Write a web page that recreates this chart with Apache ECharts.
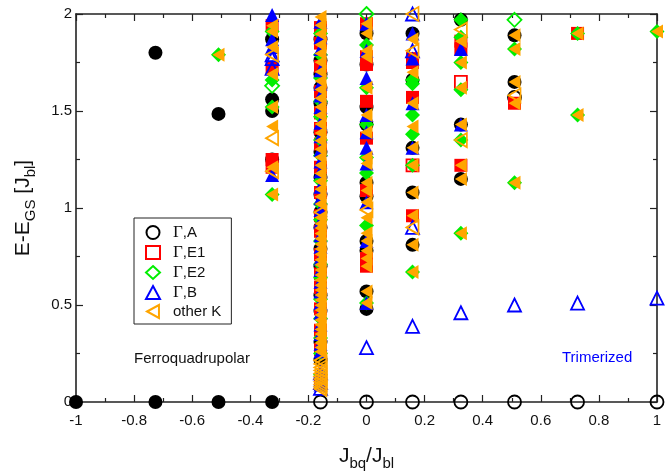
<!DOCTYPE html>
<html>
<head>
<meta charset="utf-8">
<script src="https://cdn.jsdelivr.net/npm/echarts@6/dist/echarts.min.js"></script>
<style>
  html, body { margin: 0; padding: 0; background: #fff; }
  #chart { width: 672px; height: 474px; }
</style>
</head>
<body>
<div id="chart"></div>
<script>
// Excitation energies E - E_GS (units of J_bl) versus J_bq/J_bl, grouped by symmetry sector.
const col = (x, ys) => ys.map(y => [x, y]);

const xTickValues = [-1, -0.8, -0.6, -0.4, -0.2, 0, 0.2, 0.4, 0.6, 0.8, 1];
const yTickValues = [0, 0.5, 1, 1.5, 2];

// Gamma, A sector
const gammaA_filled = [
  ...col(-1, [0]),
  ...col(-0.7265, [0, 1.80]),
  ...col(-0.5095, [0, 1.485]),
  ...col(-0.3249, [0, 1.87, 1.56, 1.50, 1.25]),
  ...col(-0.1584, [1.87, 1.76, 1.69, 1.62, 1.54, 1.39, 1.29, 1.16, 1.07, 0.98, 0.90, 0.79, 0.70, 0.55, 0.47, 0.31, 0.216]),
  ...col(0, [1.90, 1.74, 1.52, 1.43, 1.13, 1.06, 0.83, 0.78, 0.57, 0.48]),
  ...col(0.1584, [1.90, 1.66, 1.31, 1.08, 0.81]),
  ...col(0.3249, [1.97, 1.43, 1.15]),
  ...col(0.5095, [1.89, 1.65])
];
const gammaA_open = [
  ...col(-0.1584, [0]), ...col(0, [0]), ...col(0.1584, [0]), ...col(0.3249, [0]),
  ...col(0.5095, [0, 1.57]), ...col(0.7265, [0]), ...col(1, [0])
];

// Gamma, E1 sector
const gammaE1_filled = [
  ...col(-0.3249, [1.94, 1.72, 1.25, 1.21]),
  ...col(-0.1584, [1.93, 1.85, 1.73, 1.60, 1.49, 1.41, 1.33, 1.21, 1.08, 0.96, 0.88, 0.76, 0.66, 0.59, 0.48, 0.37, 0.27, 0.11]),
  ...col(0, [1.95, 1.78, 1.74, 1.55, 1.36, 1.09, 0.74, 0.70]),
  ...col(0.1584, [1.77, 1.75, 1.57, 0.96]),
  ...col(0.3249, [1.86, 1.82, 1.22]),
  ...col(0.5095, [1.54]),
  ...col(0.7265, [1.90])
];
const gammaE1_open = [...col(0.1584, [1.22]), ...col(0.3249, [1.65])];

// Gamma, E2 sector
const gammaE2_filled = [
  ...col(-0.5095, [1.79]),
  ...col(-0.3249, [1.91, 1.66, 1.52, 1.07]),
  ...col(-0.1584, [1.90, 1.79, 1.67, 1.55, 1.47, 1.35, 1.27, 1.14, 1.02, 0.94, 0.83, 0.71, 0.64, 0.53, 0.43, 0.33, 0.25, 0.14]),
  ...col(0, [1.84, 1.62, 1.43, 1.26, 1.18, 0.91, 0.51]),
  ...col(0.1584, [1.66, 1.64, 1.48, 1.38, 1.22, 0.67]),
  ...col(0.3249, [1.97, 1.88, 1.75, 1.61, 1.35, 0.87]),
  ...col(0.5095, [1.82, 1.13]),
  ...col(0.7265, [1.90, 1.48]),
  ...col(1, [1.91])
];
const gammaE2_open = [...col(-0.3249, [1.63]), ...col(0, [2.0]), ...col(0.5095, [1.97])];

// Gamma, B sector
const gammaB_filled = [
  ...col(-0.3249, [1.995, 1.87, 1.83, 1.17]),
  ...col(-0.1584, [1.96, 1.88, 1.82, 1.71, 1.64, 1.58, 1.52, 1.44, 1.37, 1.30, 1.24, 1.19, 1.11, 1.05, 0.99, 0.93, 0.86, 0.80, 0.74, 0.68, 0.62, 0.57, 0.51, 0.46, 0.40, 0.35, 0.30, 0.26, 0.16, 0.12, 0.09]),
  ...col(0, [1.95, 1.81, 1.67, 1.48, 1.39, 1.31, 1.23, 1.03, 0.83, 0.51]),
  ...col(0.1584, [1.90, 1.77, 1.54, 1.31]),
  ...col(0.3249, [1.82, 1.43])
];
const gammaB_open = [
  ...col(-0.3249, [1.79, 1.77, 1.72]),
  ...col(-0.1584, [0.15, 0.10, 0.07]),
  ...col(0, [0.28]),
  ...col(0.1584, [2.0, 1.81, 0.90, 0.39]),
  ...col(0.3249, [0.46]),
  ...col(0.5095, [0.50]),
  ...col(0.7265, [0.51]),
  ...col(1, [0.535])
];

// other K points
const otherK_filled = [
  ...col(-0.5095, [1.79]),
  ...col(-0.3249, [1.94, 1.91, 1.83, 1.69, 1.52, 1.42, 1.21, 1.07]),
  ...col(-0.1584, [1.985, 1.942, 1.897, 1.842, 1.796, 1.751, 1.702, 1.655, 1.611, 1.566, 1.521, 1.478, 1.433, 1.387, 1.347, 1.303, 1.262, 1.221, 1.178, 1.136, 1.097, 1.058, 1.021, 0.951, 0.919, 0.897, 0.868, 0.842, 0.813, 0.789, 0.761, 0.733, 0.708, 0.681, 0.655, 0.629, 0.602, 0.577, 0.551, 0.526, 0.499, 0.474, 0.449, 0.423, 0.398, 0.374, 0.351, 0.327, 0.304, 0.281, 0.259]),
  ...col(0, [1.95, 1.90, 1.81, 1.78, 1.62, 1.48, 1.39, 1.26, 1.23, 1.13, 1.09, 1.03, 0.95, 0.87, 0.83, 0.78, 0.74, 0.70, 0.57, 0.51]),
  ...col(0.1584, [1.87, 1.70, 1.54, 1.42, 1.31, 1.22, 1.08, 0.96, 0.81, 0.67]),
  ...col(0.3249, [1.86, 1.75, 1.62, 1.43, 1.22, 1.15, 0.87]),
  ...col(0.5095, [1.89, 1.82, 1.65, 1.54, 1.13]),
  ...col(0.7265, [1.90, 1.48]),
  ...col(1, [1.91])
];
const otherK_open = [
  ...col(-0.3249, [1.79, 1.36, 1.19]),
  ...col(-0.1584, [0.978, 0.214, 0.196, 0.178, 0.163, 0.147, 0.132, 0.118, 0.104, 0.091, 0.079, 0.068]),
  ...col(0, [0.99]),
  ...col(0.1584, [2.0, 1.81, 0.90]),
  ...col(0.3249, [1.92, 1.35]),
  ...col(0.5095, [1.58])
];

const FONT = 'Liberation Sans, Arial, sans-serif';
const chart = echarts.init(document.getElementById('chart'), null, { renderer: 'canvas' });

function filled(name, data, symbol, color, size, rotate) {
  return {
    name, type: 'scatter', data, symbol, symbolSize: size, symbolRotate: rotate || 0,
    clip: false, silent: true,
    itemStyle: { color, borderWidth: 0, opacity: 1 }
  };
}
function open(name, data, symbol, color, size, rotate) {
  return {
    name, type: 'scatter', data, symbol, symbolSize: size, symbolRotate: rotate || 0,
    clip: false, silent: true,
    itemStyle: { color: 'rgba(255,255,255,0)', borderColor: color, borderWidth: 1.8, opacity: 1 }
  };
}

const fmt = v => String(Math.round(v * 10) / 10);

const axisCommon = {
  axisLine: { show: true, onZero: false, lineStyle: { color: '#222', width: 1.6 } },
  axisTick: { show: true, inside: true, length: 7, lineStyle: { color: '#222', width: 1.2 } },
  minorTick: { show: true, splitNumber: 2, length: 4, lineStyle: { color: '#222', width: 1.2 } },
  splitLine: { show: false }
};

const legendRich = {
  g: { fontFamily: 'Liberation Serif, DejaVu Serif, serif', fontSize: 17, color: '#111', lineHeight: 16, padding: [0, 0, 0, 8] },
  t: { fontFamily: FONT, fontSize: 15, color: '#111', lineHeight: 16 },
  p: { fontFamily: FONT, fontSize: 15, color: '#111', lineHeight: 16, padding: [0, 0, 0, 8] }
};

chart.setOption({
  animation: false,
  backgroundColor: '#fff',
  grid: { left: 76, right: 15, top: 14, bottom: 72, containLabel: false, outerBoundsMode: 'none' },
  legend: {
    orient: 'vertical', left: 134, top: 218,
    padding: [6, 10, 5, 11],
    itemGap: 3, itemWidth: 14, itemHeight: 13,
    borderColor: '#222', borderWidth: 1, borderRadius: 0,
    backgroundColor: '#fff',
    selectedMode: false,
    data: [
      { name: 'Γ,A' }, { name: 'Γ,E1' }, { name: 'Γ,E2' }, { name: 'Γ,B' },
      { name: 'other K', icon: 'path://M0,6 L11,0 L11,12 Z' }
    ],
    formatter: n => n.startsWith('Γ') ? '{g|Γ}{t|' + n.slice(1) + '}' : '{p|' + n + '}',
    textStyle: { color: '#111', fontSize: 15, fontFamily: FONT, rich: legendRich }
  },
  xAxis: [
    Object.assign({}, axisCommon, {
      type: 'value', min: -1, max: 1, interval: 0.2, position: 'bottom',
      axisLabel: { formatter: fmt, color: '#111', fontSize: 15, fontFamily: FONT, margin: 11 },
      name: '{a|J}{s|bq}{a|/J}{s|bl}', nameLocation: 'middle', nameGap: 40,
      nameTextStyle: {
        rich: {
          a: { fontSize: 21, fontFamily: FONT, color: '#111' },
          s: { fontSize: 15, fontFamily: FONT, color: '#111', padding: [14, 0, 0, 0] }
        }
      }
    }),
    Object.assign({}, axisCommon, {
      type: 'value', min: -1, max: 1, interval: 0.2, position: 'top',
      axisLabel: { show: false }
    })
  ],
  yAxis: [
    Object.assign({}, axisCommon, {
      type: 'value', min: 0, max: 2, interval: 0.5, position: 'left',
      axisLabel: { formatter: fmt, color: '#111', fontSize: 15, fontFamily: FONT, margin: 4 },
      name: '{a|E-E}{s|GS}{a| [J}{s|bl}{a|]}', nameLocation: 'middle', nameGap: 38, nameRotate: 90,
      nameTextStyle: {
        rich: {
          a: { fontSize: 21, fontFamily: FONT, color: '#111' },
          s: { fontSize: 15, fontFamily: FONT, color: '#111', padding: [14, 0, 0, 0] }
        }
      }
    }),
    Object.assign({}, axisCommon, {
      type: 'value', min: 0, max: 2, interval: 0.5, position: 'right',
      axisLabel: { show: false }
    })
  ],
  graphic: [
    { type: 'text', left: 134, top: 351, style: { text: 'Ferroquadrupolar', fill: '#111', fontSize: 15, fontFamily: FONT } },
    { type: 'text', left: 562, top: 350, style: { text: 'Trimerized', fill: '#0000ff', fontSize: 15, fontFamily: FONT } }
  ],
  series: [
    filled('Γ,A filled', gammaA_filled, 'circle', '#000', 14),
    open('Γ,A', gammaA_open, 'circle', '#000', 13),
    filled('Γ,E1 filled', gammaE1_filled, 'rect', '#ff0000', 13),
    open('Γ,E1', gammaE1_open, 'rect', '#ff0000', 12),
    filled('Γ,E2 filled', gammaE2_filled, 'diamond', '#00ee00', 15),
    open('Γ,E2', gammaE2_open, 'diamond', '#00ee00', 14),
    filled('Γ,B filled', gammaB_filled, 'triangle', '#0000ff', 14),
    open('Γ,B', gammaB_open, 'triangle', '#0000ff', 13),
    filled('other K filled', otherK_filled, 'triangle', '#ffa500', [14, 12], 90),
    open('other K', otherK_open, 'triangle', '#ffa500', [14, 12], 90)
  ]
});
</script>
</body>
</html>
